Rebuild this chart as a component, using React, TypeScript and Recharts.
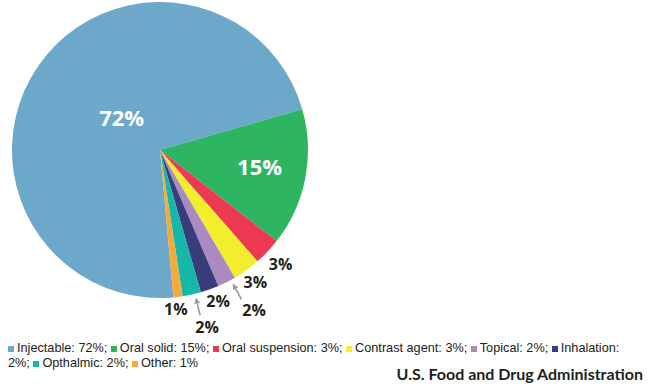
import { PieChart, Pie, Cell } from 'recharts';

const categories = ['Injectable', 'Oral solid', 'Oral suspension', 'Contrast agent', 'Topical', 'Inhalation', 'Opthalmic', 'Other'];
const shares = [72, 15, 3, 3, 2, 2, 2, 1];
const colors = ['#6ba8c9', '#2eb562', '#ee3952', '#f3ee2d', '#a98bc1', '#3a3d7c', '#15b7a9', '#f6aa3c'];

// label placement per slice: radius from centre, angle nudge (deg), font size
const labelRadius = [50, 101, 166, 163, 186, 162, 183, 160];
const labelNudge = [-5.6, 1.3, 0, 0, 3.6, 1.4, 2.5, -1.3];
const labelSize = [22, 22, 16, 16, 16, 16, 16, 16];
const arrowSlices = [4, 6];

const data = categories.map((name, i) => ({ name, value: shares[i] }));

const RAD = Math.PI / 180;
const CX = 160;
const CY = 150;
const R = 148;

const renderLabel = (props: any) => {
  const { cx, cy, midAngle, index } = props;
  const ang = midAngle + labelNudge[index];
  const r = labelRadius[index];
  const x = cx + r * Math.cos(-ang * RAD);
  const y = cy + r * Math.sin(-ang * RAD);
  const fs = labelSize[index];
  const inside = index < 2;
  let arrow = null;
  if (arrowSlices.includes(index)) {
    const a = (midAngle + labelNudge[index] / 2) * RAD;
    const x1 = cx + (R + 4) * Math.cos(-a);
    const y1 = cy + (R + 4) * Math.sin(-a);
    const x2 = cx + (R + 22) * Math.cos(-a);
    const y2 = cy + (R + 22) * Math.sin(-a);
    const len = Math.hypot(x1 - x2, y1 - y2);
    const ux = (x1 - x2) / len;
    const uy = (y1 - y2) / len;
    const bx = x1 - ux * 6;
    const by = y1 - uy * 6;
    arrow = (
      <g>
        <line x1={x2} y1={y2} x2={bx} y2={by} stroke="#9a9a9a" strokeWidth={1.6} />
        <polygon
          points={`${x1},${y1} ${bx - uy * 3},${by + ux * 3} ${bx + uy * 3},${by - ux * 3}`}
          fill="#9a9a9a"
        />
      </g>
    );
  }
  return (
    <g key={`lbl-${index}`}>
      {arrow}
      <text
        x={x}
        y={y + fs * 0.357}
        textAnchor="middle"
        fontFamily="'Open Sans', sans-serif"
        fontWeight={700}
        fontSize={fs}
        fill={inside ? '#ffffff' : '#231f20'}
      >
        {`${shares[index]}%`}
      </text>
    </g>
  );
};

const nowrap = { whiteSpace: 'nowrap' as const };

export default function App() {
  return (
    <div style={{ position: 'relative', width: 650, height: 386, background: '#fff', overflow: 'hidden' }}>
      <style>{'body{margin:0}'}</style>
      <PieChart width={650} height={386} margin={{ top: 0, right: 0, bottom: 0, left: 0 }}>
        <Pie
          data={data}
          dataKey="value"
          nameKey="name"
          cx={CX}
          cy={CY}
          outerRadius={R}
          startAngle={275.2}
          endAngle={-84.8}
          stroke="none"
          labelLine={false}
          label={renderLabel}
          isAnimationActive={false}
        >
          {data.map((d, i) => (
            <Cell key={d.name} fill={colors[i]} />
          ))}
        </Pie>
      </PieChart>
      <div
        style={{
          position: 'absolute',
          left: 8,
          top: 341,
          width: 628,
          fontFamily: "'Liberation Sans', Arial, sans-serif",
          fontSize: 12.7,
          lineHeight: '15px',
          color: '#222',
        }}
      >
        {categories.map((c, i) => (
          <span key={c}>
            <span style={nowrap}>
              <span
                style={{
                  display: 'inline-block',
                  width: 6,
                  height: 6,
                  background: colors[i],
                  marginRight: 3,
                  verticalAlign: 'baseline',
                }}
              />
              <span>{`${c}:`}</span>
            </span>{' '}
            <span style={nowrap}>{`${shares[i]}%${i < categories.length - 1 ? ';' : ''}`}</span>{' '}
          </span>
        ))}
      </div>
      <div
        style={{
          position: 'absolute',
          right: 7,
          top: 364,
          fontFamily: "Lato, 'Open Sans', sans-serif",
          fontWeight: 700,
          fontSize: 16,
          color: '#231f20',
        }}
      >
        U.S. Food and Drug Administration
      </div>
    </div>
  );
}
